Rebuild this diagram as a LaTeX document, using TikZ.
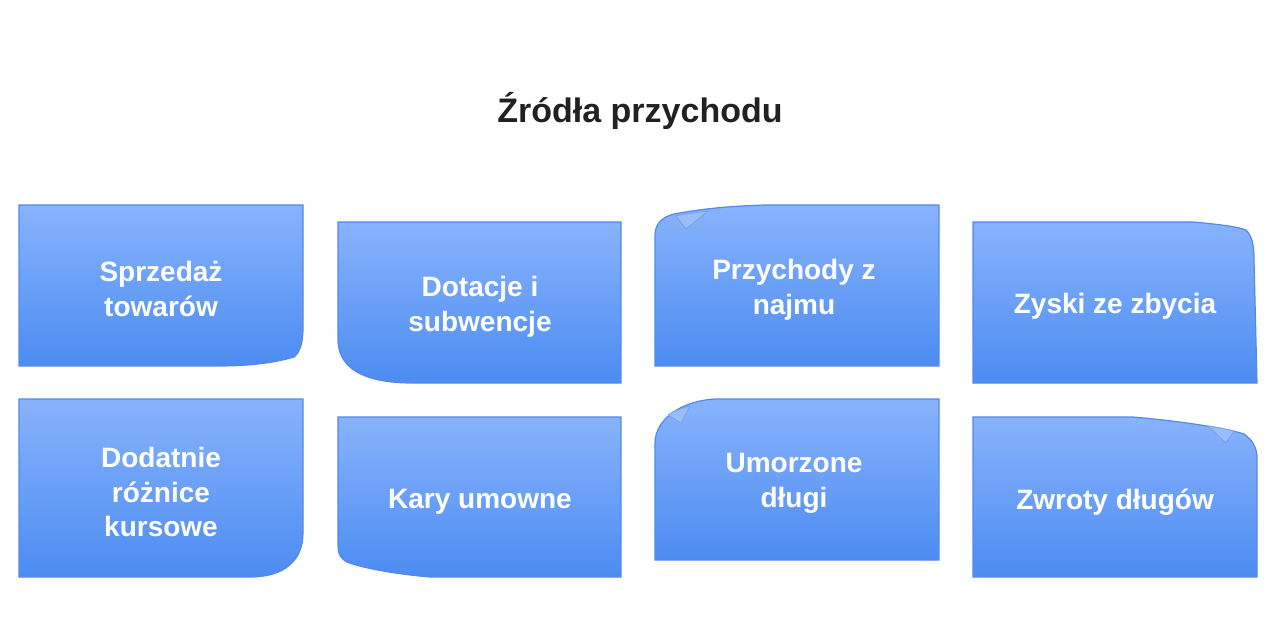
\documentclass[tikz,border=0pt]{standalone}
\usepackage{fontspec}
\setmainfont{Liberation Sans}
\definecolor{gora}{RGB}{136,179,252}
\definecolor{dol}{RGB}{76,140,242}
\definecolor{ramka}{RGB}{84,137,234}
\definecolor{tytul}{RGB}{33,33,33}

\tikzstyle{kafel} = [draw=ramka, line width=0.9pt, top color=gora, bottom color=dol]
\tikzstyle{zagiecie} = [draw=ramka!80, line width=0.6pt, fill=gora!85!white]
\tikzstyle{etykieta} = [text=white, font=\fontsize{21}{26}\selectfont\bfseries, align=center]

\begin{document}
\begin{tikzpicture}[x=0.75pt, y=-0.75pt]
        \useasboundingbox (0,0) rectangle (1280,640);
        \node (tytul) [font=\fontsize{25.5}{30}\selectfont\bfseries, text=tytul] at (640,111) {Źródła przychodu};

        % gorny rzad
        \draw [kafel] (19,205) -- (303,205) -- (303,328) .. controls (303,345) and (299,353) .. (294,357) .. controls (270,364) and (245,366) .. (215,366) -- (19,366) -- cycle;
        \draw [kafel] (338,222) -- (621,222) -- (621,383) -- (413,383) .. controls (370,383) and (340,372) .. (338,342) -- cycle;
        \draw [kafel] (939,205) -- (939,366) -- (655,366) -- (655,235) .. controls (655,224) and (662,217) .. (674,214) .. controls (700,209) and (730,206) .. (765,205) -- cycle;
        \draw [zagiecie] (676,216) -- (686,229) -- (708,211) .. controls (697,212) and (686,214) .. (676,216);
        \draw [kafel] (973,222) -- (1193,222) .. controls (1215,224) and (1235,226) .. (1246,230) .. controls (1252,236) and (1254,245) .. (1254,260) -- (1257,383) -- (973,383) -- cycle;

        % dolny rzad
        \draw [kafel] (19,399) -- (303,399) -- (303,533) .. controls (303,560) and (285,577) .. (250,577) -- (19,577) -- cycle;
        \draw [kafel] (338,417) -- (621,417) -- (621,577) -- (430,577) .. controls (395,574) and (362,568) .. (347,562) .. controls (341,559) and (338,554) .. (338,547) -- cycle;
        \draw [kafel] (939,399) -- (939,560) -- (655,560) -- (655,443) .. controls (655,420) and (680,401) .. (715,399) -- cycle;
        \draw [zagiecie] (668,415) -- (681,423) -- (690,406) .. controls (680,409) and (673,411) .. (668,415);
        \draw [kafel] (973,417) -- (1133,417) .. controls (1180,421) and (1225,428) .. (1244,434) .. controls (1252,440) and (1256,446) .. (1257,456) -- (1257,577) -- (973,577) -- cycle;
        \draw [zagiecie] (1208,426) -- (1226,443) -- (1234,431) .. controls (1225,429) and (1216,427) .. (1208,426);

        \node (sprzedaz) [etykieta] at (161,289) {Sprzedaż\\towarów};
        \node (dotacje) [etykieta] at (480,307) {Dotacje i\\subwencje};
        \node (najem) [etykieta] at (794,290) {Przychody z\\najmu};
        \node (zyski) [etykieta] at (1115,306) {Zyski ze zbycia};
        \node (roznice) [etykieta] at (161,492) {Dodatnie\\różnice\\kursowe};
        \node (kary) [etykieta] at (480,502) {Kary umowne};
        \node (dlugi) [etykieta] at (794,483) {Umorzone\\długi};
        \node (zwroty) [etykieta] at (1115,502) {Zwroty długów};
    \end{tikzpicture}
\end{document}
